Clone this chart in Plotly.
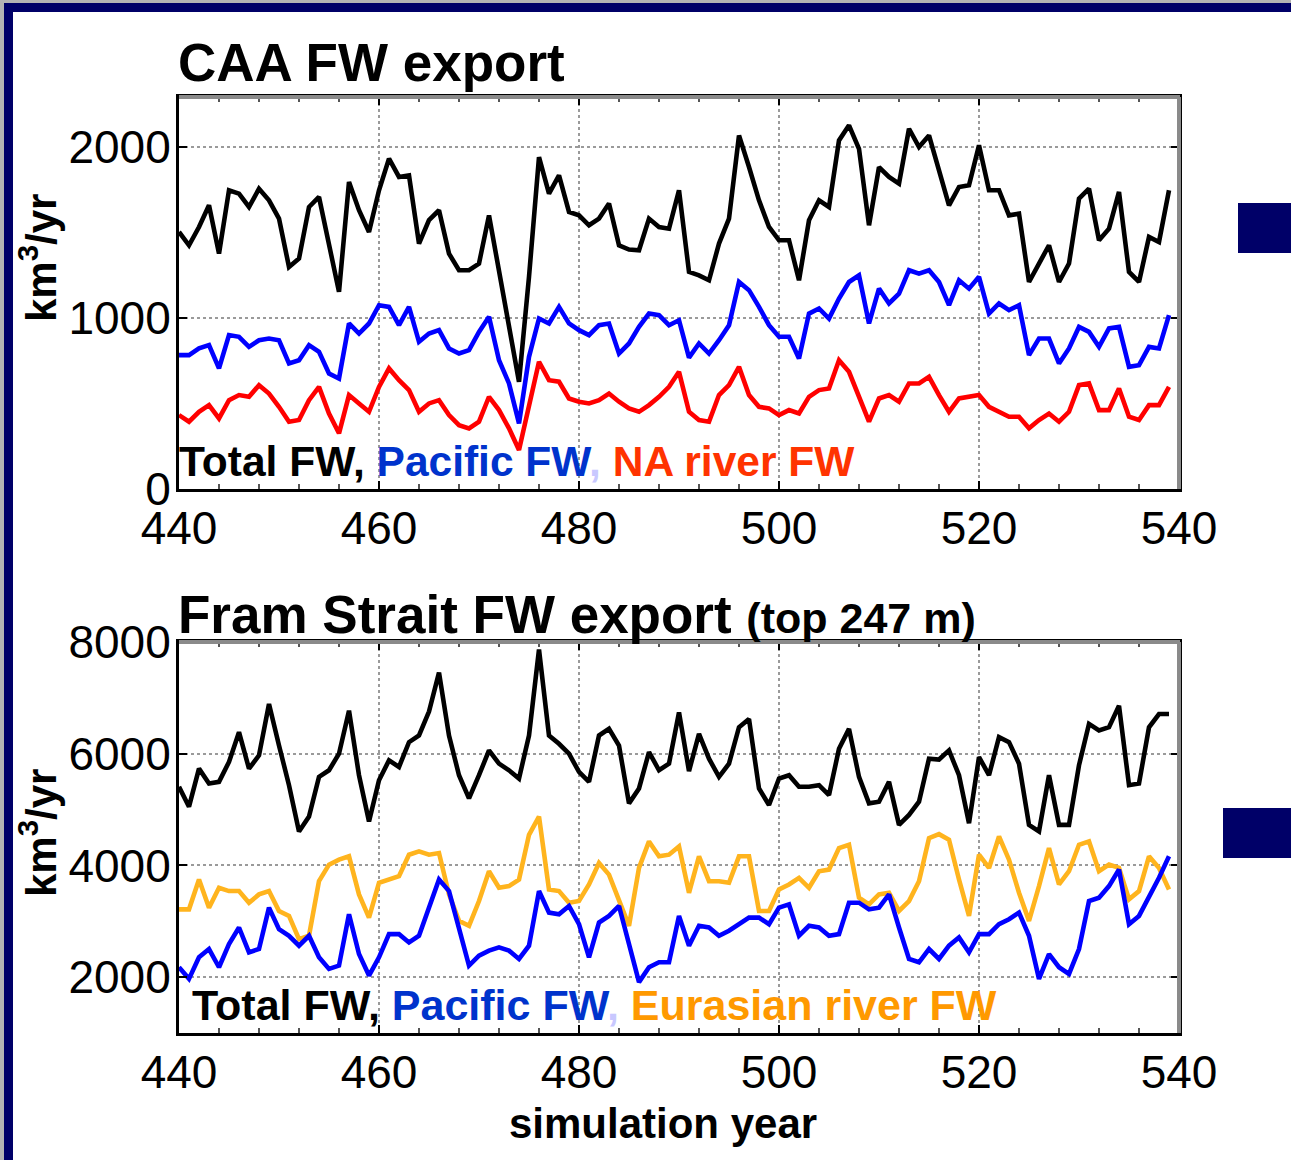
import plotly.graph_objects as go

years = list(range(440, 540))

caa_total = [1505, 1427, 1534, 1661, 1378, 1749, 1729, 1651, 1758, 1690,
             1583, 1300, 1349, 1651, 1710, 1437, 1154, 1797, 1632, 1505,
             1749, 1934, 1827, 1836, 1437, 1575, 1632, 1378, 1281, 1281,
             1320, 1602, 1281, 969, 628, 1242, 1943, 1729, 1836, 1622,
             1602, 1544, 1583, 1671, 1427, 1402, 1398, 1583, 1534, 1524,
             1749, 1271, 1251, 1222, 1437, 1583, 2070, 1885, 1690, 1534,
             1456, 1456, 1222, 1573, 1690, 1651, 2041, 2129, 1992, 1544,
             1885, 1827, 1788, 2109, 2002, 2070, 1856, 1661, 1768, 1778,
             2012, 1749, 1749, 1602, 1612, 1212, 1320, 1427, 1212, 1320,
             1700, 1758, 1456, 1524, 1739, 1271, 1212, 1476, 1446, 1749]

caa_pacific = [784, 784, 823, 842, 706, 901, 891, 832, 871, 881,
               871, 735, 754, 842, 803, 676, 647, 969, 910, 969,
               1076, 1066, 959, 1066, 862, 910, 930, 823, 793, 813,
               920, 1008, 754, 618, 384, 774, 998, 969, 1066, 969,
               930, 901, 959, 969, 793, 852, 949, 1027, 1018, 959,
               988, 769, 852, 793, 871, 959, 1212, 1164, 1066, 959,
               891, 891, 764, 1027, 1057, 998, 1115, 1212, 1251, 969,
               1173, 1086, 1144, 1281, 1261, 1281, 1212, 1076, 1222, 1173,
               1242, 1027, 1086, 1047, 1076, 784, 881, 881, 735, 823,
               949, 920, 832, 940, 949, 715, 725, 832, 823, 1018]

caa_na_river = [433, 394, 452, 491, 413, 520, 550, 540, 608, 559,
                481, 394, 404, 520, 598, 442, 326, 550, 501, 452,
                598, 706, 637, 579, 452, 501, 520, 433, 374, 355,
                394, 540, 462, 355, 228, 481, 745, 637, 628, 530,
                511, 501, 520, 559, 511, 472, 452, 491, 540, 598,
                686, 452, 404, 394, 550, 608, 715, 550, 481, 472,
                433, 462, 442, 540, 579, 589, 754, 686, 540, 394,
                530, 550, 511, 618, 618, 657, 550, 452, 530, 540,
                550, 481, 452, 423, 423, 355, 404, 442, 394, 452,
                608, 618, 462, 462, 589, 423, 404, 491, 491, 598]

fram_total = [5408, 5052, 5733, 5467, 5496, 5852, 6385, 5733, 5970, 6889,
              6148, 5437, 4608, 4874, 5585, 5704, 6000, 6770, 5615, 4785,
              5526, 5881, 5763, 6207, 6326, 6755, 7452, 6326, 5615, 5200,
              5615, 6059, 5822, 5704, 5556, 6326, 7867, 6326, 6178, 6000,
              5674, 5496, 6326, 6445, 6148, 5111, 5378, 6030, 5704, 5822,
              6741, 5690, 6356, 5911, 5585, 5822, 6474, 6622, 5378, 5081,
              5556, 5615, 5408, 5408, 5437, 5259, 6089, 6445, 5585, 5111,
              5141, 5496, 4726, 4904, 5141, 5911, 5896, 6059, 5615, 4755,
              5941, 5615, 6296, 6207, 5822, 4726, 4608, 5615, 4726, 4726,
              5793, 6533, 6415, 6474, 6859, 5437, 5467, 6474, 6711, 6711]

fram_pacific = [2177, 1969, 2355, 2503, 2177, 2592, 2889, 2444, 2503, 3244,
                2859, 2741, 2563, 2741, 2355, 2147, 2207, 3126, 2414, 2029,
                2355, 2770, 2770, 2622, 2741, 3274, 3747, 3541, 2889, 2207,
                2385, 2474, 2533, 2474, 2325, 2563, 3541, 3155, 3126, 3274,
                2948, 2355, 2977, 3096, 3274, 2563, 1911, 2177, 2266, 2266,
                3096, 2563, 2919, 2889, 2741, 2830, 2948, 3066, 3066, 2948,
                3244, 3303, 2741, 2919, 2889, 2741, 2770, 3333, 3333, 3214,
                3244, 3481, 2889, 2325, 2266, 2503, 2325, 2563, 2711, 2444,
                2770, 2770, 2948, 3037, 3155, 2741, 1969, 2414, 2177, 2058,
                2503, 3363, 3422, 3630, 3926, 2948, 3096, 3422, 3778, 4163]

fram_eurasian = [3214, 3214, 3747, 3244, 3600, 3541, 3541, 3333, 3481, 3541,
                 3185, 3096, 2681, 2741, 3718, 4014, 4103, 4163, 3481, 3066,
                 3689, 3747, 3807, 4192, 4252, 4192, 4222, 3481, 3007, 2919,
                 3363, 3896, 3600, 3630, 3747, 4548, 4874, 3570, 3541, 3333,
                 3363, 3659, 4044, 3836, 3363, 2919, 3955, 4430, 4163, 4192,
                 4341, 3510, 4163, 3718, 3718, 3689, 4163, 4163, 3185, 3185,
                 3570, 3659, 3778, 3600, 3896, 3926, 4311, 4370, 3422, 3303,
                 3481, 3511, 3185, 3363, 3718, 4489, 4560, 4459, 3747, 3096,
                 4192, 3955, 4518, 4103, 3511, 3007, 3630, 4311, 3659, 3896,
                 4370, 4430, 3896, 4014, 3955, 3392, 3541, 4163, 3955, 3570]

x_ticks = [440, 460, 480, 500, 520, 540]
caa_yticks = [0, 1000, 2000]
fram_yticks = [2000, 4000, 6000, 8000]

W, H = 1291, 1160
FONT = "Liberation Sans, Arial, Helvetica, sans-serif"
NAVY = "#000068"


def px(x):
    return x / W


def py(y):
    return 1 - y / H


fig = go.Figure()
lw = 4.6
fig.add_trace(go.Scatter(x=years, y=caa_total, mode="lines", line=dict(color="#000000", width=lw), xaxis="x", yaxis="y"))
fig.add_trace(go.Scatter(x=years, y=caa_pacific, mode="lines", line=dict(color="#0000ff", width=lw), xaxis="x", yaxis="y"))
fig.add_trace(go.Scatter(x=years, y=caa_na_river, mode="lines", line=dict(color="#ff0000", width=lw), xaxis="x", yaxis="y"))
fig.add_trace(go.Scatter(x=years, y=fram_total, mode="lines", line=dict(color="#000000", width=lw), xaxis="x2", yaxis="y2"))
fig.add_trace(go.Scatter(x=years, y=fram_eurasian, mode="lines", line=dict(color="#ffb41e", width=lw), xaxis="x2", yaxis="y2"))
fig.add_trace(go.Scatter(x=years, y=fram_pacific, mode="lines", line=dict(color="#0000ff", width=lw), xaxis="x2", yaxis="y2"))

tickfont = dict(family=FONT, size=46, color="#000000")
common_x = dict(range=[440, 540], tickvals=x_ticks, ticks="inside", ticklen=8, tickwidth=2,
                tickcolor="#000000", showline=True, linecolor="#000000", linewidth=3,
                mirror="ticks", showgrid=True, gridcolor="#9a9a9a", gridwidth=2, griddash="dot",
                zeroline=False, tickfont=tickfont, ticklabelstandoff=-3, automargin=False,
                minor=dict(dtick=4, ticks="inside", ticklen=5, tickwidth=2, tickcolor="#555555", showgrid=False),
                domain=[px(179), px(1179)])
common_y = dict(ticks="inside", ticklen=8, tickwidth=2, tickcolor="#000000", showline=True,
                linecolor="#000000", linewidth=3, mirror="ticks", showgrid=True, gridcolor="#9a9a9a",
                gridwidth=2, griddash="dot", zeroline=False, tickfont=tickfont, ticklabelstandoff=-4,
                automargin=False)

fig.update_layout(
    width=W, height=H, margin=dict(l=0, r=0, t=0, b=0, pad=0, autoexpand=False),
    paper_bgcolor="white", plot_bgcolor="white", showlegend=False,
    xaxis=dict(anchor="y", **common_x),
    xaxis2=dict(anchor="y2", **common_x),
    yaxis=dict(anchor="x", range=[0, 2295], tickvals=caa_yticks, domain=[py(489), py(97)], **common_y),
    yaxis2=dict(anchor="x2", range=[1000, 8000], tickvals=fram_yticks, domain=[py(1033), py(642)], **common_y),
)

shapes = [
    dict(type="rect", xref="paper", yref="paper", x0=0, x1=px(4), y0=0, y1=1, fillcolor="#b4b4b4", line_width=0),
    dict(type="rect", xref="paper", yref="paper", x0=0, x1=1, y0=py(3), y1=1, fillcolor="#b4b4b4", line_width=0),
    dict(type="rect", xref="paper", yref="paper", x0=px(4), x1=px(13), y0=0, y1=py(3), fillcolor=NAVY, line_width=0),
    dict(type="rect", xref="paper", yref="paper", x0=px(4), x1=1, y0=py(12), y1=py(3), fillcolor=NAVY, line_width=0),
    dict(type="rect", xref="paper", yref="paper", x0=px(1238), x1=1, y0=py(253), y1=py(203), fillcolor=NAVY, line_width=0),
    dict(type="rect", xref="paper", yref="paper", x0=px(1223), x1=1, y0=py(858), y1=py(808), fillcolor=NAVY, line_width=0),
]
for top, bot in [(97, 489), (642, 1033)]:
    shapes.append(dict(type="line", xref="paper", yref="paper", x0=px(179), x1=px(1180), y0=py(top), y1=py(top),
                       line=dict(color="#8a8a8a", width=4)))
    shapes.append(dict(type="line", xref="paper", yref="paper", x0=px(1179), x1=px(1179), y0=py(bot), y1=py(top),
                       line=dict(color="#8a8a8a", width=4)))
fig.update_layout(shapes=shapes)

ann = []
ann.append(dict(text="<b>CAA FW export</b>", x=px(176), y=py(62), xanchor="left", yanchor="middle",
                font=dict(family=FONT, size=53, color="#000000")))
ann.append(dict(text="<b>Fram Strait FW export <span style='font-size:43px'>(top 247 m)</span></b>",
                x=px(176), y=py(614), xanchor="left", yanchor="middle",
                font=dict(family=FONT, size=53, color="#000000")))
ann.append(dict(text="<b>Total FW, <span style='color:#0033cc'>Pacific FW</span><span style='color:#c8c8ff'>,</span> "
                     "<span style='color:#ff3300'>NA river FW</span></b>",
                x=px(177), y=py(462), xanchor="left", yanchor="middle",
                font=dict(family=FONT, size=42.5, color="#000000")))
ann.append(dict(text="<b>Total FW, <span style='color:#0033cc'>Pacific FW</span><span style='color:#c8c8ff'>,</span> "
                     "<span style='color:#ff9900'>Eurasian river FW</span></b>",
                x=px(190), y=py(1005), xanchor="left", yanchor="middle",
                font=dict(family=FONT, size=43, color="#000000")))
for yc in [258, 833]:
    ann.append(dict(text="<b>km<sup>3</sup>/yr</b>", x=px(38), y=py(yc), xanchor="center", yanchor="middle",
                    textangle=-90, font=dict(family=FONT, size=42, color="#000000")))
ann.append(dict(text="<b>simulation year</b>", x=px(663), y=py(1123), xanchor="center", yanchor="middle",
                font=dict(family=FONT, size=42, color="#000000")))
for a in ann:
    a.update(xref="paper", yref="paper", showarrow=False)
fig.update_layout(annotations=ann)

fig.write_html("out.html", config={"displayModeBar": False},
               post_script="document.body.style.margin='0';document.body.style.overflow='hidden';")
